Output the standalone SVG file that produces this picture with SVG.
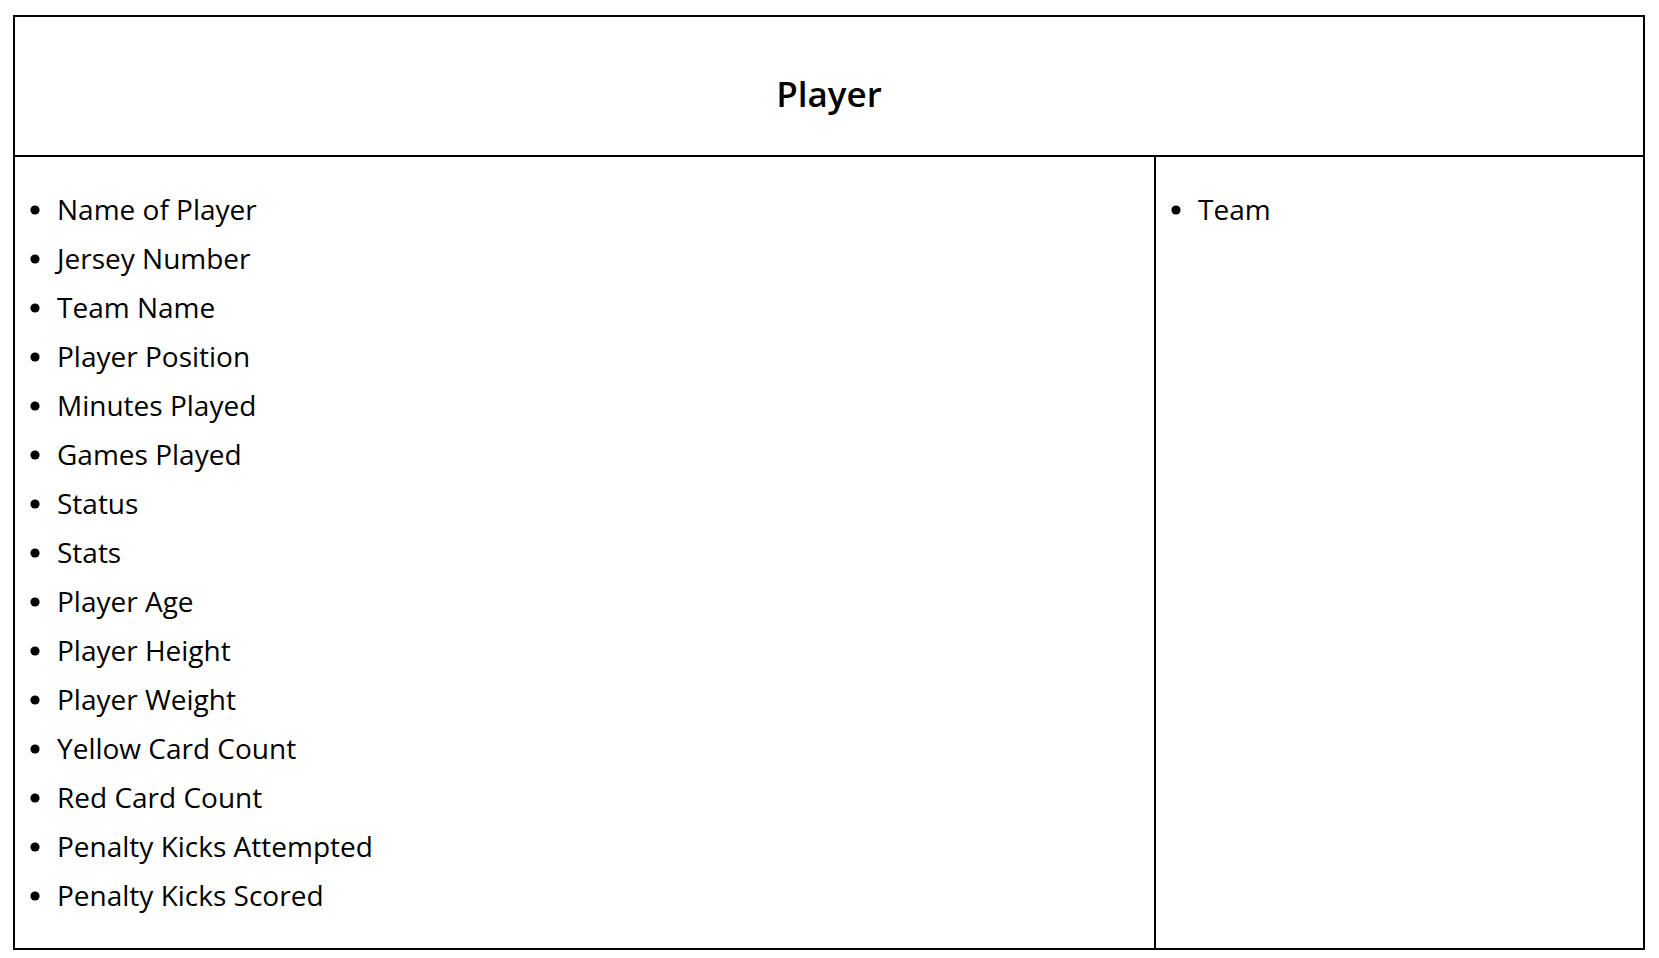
<svg xmlns="http://www.w3.org/2000/svg" width="1659" height="958" viewBox="0 0 1659 958">
<style>
.frame{fill:#fff;stroke:#000;stroke-width:2}
.ln{stroke:#000;stroke-width:2}
.title{font-family:"Open Sans","Liberation Sans",sans-serif;font-size:35px;font-weight:600;fill:#000;text-anchor:middle}
.item{font-family:"Open Sans","Liberation Sans",sans-serif;font-size:28px;fill:#000}
.dot{fill:#000}
</style>
<rect x="0" y="0" width="1659" height="958" fill="#fff"/>
<g id="player">
<rect class="frame" x="14" y="16" width="1630" height="933"/>
<line class="ln" x1="14" y1="156" x2="1644" y2="156"/>
<line class="ln" x1="1155" y1="156" x2="1155" y2="949"/>
<text class="title" x="829" y="107">Player</text>
</g>
<g id="attributes">
<circle class="dot" cx="35" cy="210" r="4.6"/><text class="item" x="57" y="220">Name of Player</text>
<circle class="dot" cx="35" cy="259" r="4.6"/><text class="item" x="57" y="269">Jersey Number</text>
<circle class="dot" cx="35" cy="308" r="4.6"/><text class="item" x="57" y="318">Team Name</text>
<circle class="dot" cx="35" cy="357" r="4.6"/><text class="item" x="57" y="367">Player Position</text>
<circle class="dot" cx="35" cy="406" r="4.6"/><text class="item" x="57" y="416">Minutes Played</text>
<circle class="dot" cx="35" cy="455" r="4.6"/><text class="item" x="57" y="465">Games Played</text>
<circle class="dot" cx="35" cy="504" r="4.6"/><text class="item" x="57" y="514">Status</text>
<circle class="dot" cx="35" cy="553" r="4.6"/><text class="item" x="57" y="563">Stats</text>
<circle class="dot" cx="35" cy="602" r="4.6"/><text class="item" x="57" y="612">Player Age</text>
<circle class="dot" cx="35" cy="651" r="4.6"/><text class="item" x="57" y="661">Player Height</text>
<circle class="dot" cx="35" cy="700" r="4.6"/><text class="item" x="57" y="710">Player Weight</text>
<circle class="dot" cx="35" cy="749" r="4.6"/><text class="item" x="57" y="759">Yellow Card Count</text>
<circle class="dot" cx="35" cy="798" r="4.6"/><text class="item" x="57" y="808">Red Card Count</text>
<circle class="dot" cx="35" cy="847" r="4.6"/><text class="item" x="57" y="857">Penalty Kicks Attempted</text>
<circle class="dot" cx="35" cy="896" r="4.6"/><text class="item" x="57" y="906">Penalty Kicks Scored</text>
</g>
<g id="relations">
<circle class="dot" cx="1176" cy="210" r="4.6"/><text class="item" x="1198" y="220">Team</text>
</g>
<g id="connectors"></g>
</svg>
